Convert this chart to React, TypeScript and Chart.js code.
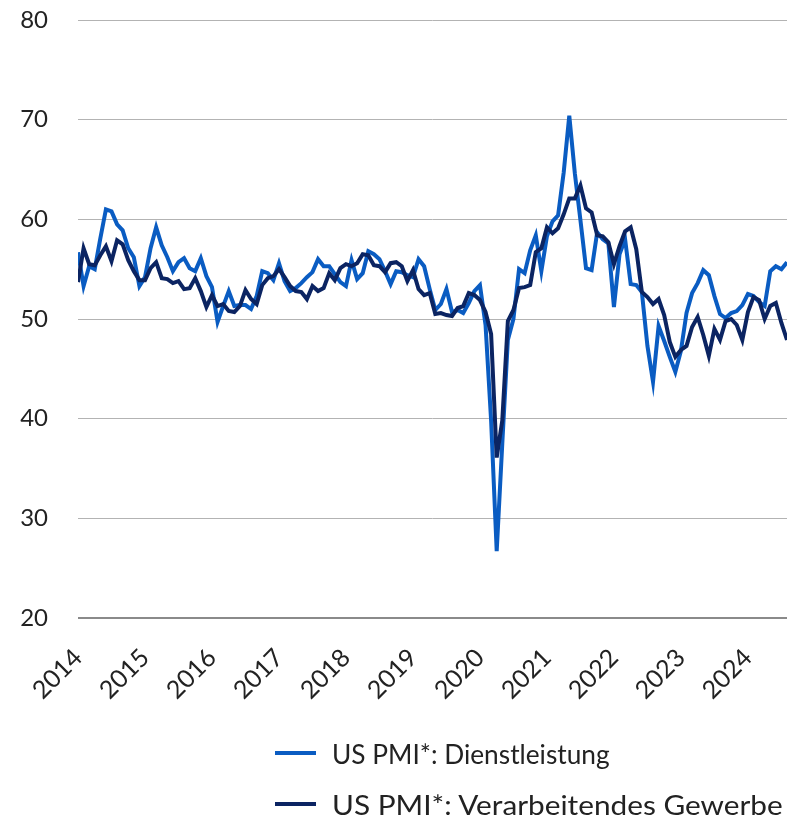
import React, { useEffect, useRef } from "react";
import { Chart, registerables } from "chart.js";

Chart.register(...registerables);

// Monthly data, Jan 2014 – Aug 2024
const startYear = 2014;
const yearLabels = ["2014", "2015", "2016", "2017", "2018", "2019", "2020", "2021", "2022", "2023", "2024"];
const yTicks = [20, 30, 40, 50, 60, 70, 80];

const servicesPMI = [
  56.7, 53.3, 55.3, 55.0, 58.1, 61.0, 60.8, 59.5, 58.9, 57.1, 56.2, 53.3,
  54.2, 57.1, 59.2, 57.4, 56.2, 54.8, 55.7, 56.1, 55.1, 54.8, 56.1, 54.3,
  53.2, 49.7, 51.3, 52.8, 51.3, 51.4, 51.4, 51.0, 52.3, 54.8, 54.6, 53.9,
  55.6, 53.8, 52.8, 53.1, 53.6, 54.2, 54.7, 56.0, 55.3, 55.3, 54.5, 53.7,
  53.3, 55.9, 54.0, 54.6, 56.8, 56.5, 56.0, 54.8, 53.5, 54.8, 54.7, 54.4,
  54.2, 56.0, 55.3, 53.0, 50.9, 51.5, 53.0, 50.7, 50.9, 50.6, 51.6, 52.8,
  53.4, 49.4, 39.8, 26.7, 37.5, 47.9, 50.0, 55.0, 54.6, 56.9, 58.4, 54.8,
  58.3, 59.8, 60.4, 64.7, 70.4, 64.6, 59.9, 55.1, 54.9, 58.7, 58.0, 57.6,
  51.2, 56.5, 58.0, 53.5, 53.4, 52.7, 47.3, 43.7, 49.3, 47.8, 46.2, 44.7,
  46.8, 50.6, 52.6, 53.6, 54.9, 54.4, 52.3, 50.5, 50.1, 50.6, 50.8, 51.4,
  52.5, 52.3, 51.7, 51.3, 54.8, 55.3, 55.0, 55.7,
];

const manufacturingPMI = [
  53.7, 57.1, 55.5, 55.4, 56.4, 57.3, 55.8, 57.9, 57.5, 55.9, 54.8, 53.9,
  53.9, 55.1, 55.7, 54.1, 54.0, 53.6, 53.8, 53.0, 53.1, 54.1, 52.8, 51.2,
  52.4, 51.3, 51.5, 50.8, 50.7, 51.3, 52.9, 52.0, 51.5, 53.4, 54.1, 54.3,
  55.0, 54.2, 53.3, 52.8, 52.7, 52.0, 53.3, 52.8, 53.1, 54.6, 53.9, 55.1,
  55.5, 55.3, 55.6, 56.5, 56.4, 55.4, 55.3, 54.7, 55.6, 55.7, 55.3, 53.8,
  54.9, 53.0, 52.4, 52.6, 50.5, 50.6, 50.4, 50.3, 51.1, 51.3, 52.6, 52.4,
  51.9, 50.7, 48.5, 36.1, 39.8, 49.8, 50.9, 53.1, 53.2, 53.4, 56.7, 57.1,
  59.2, 58.6, 59.1, 60.5, 62.1, 62.1, 63.4, 61.1, 60.7, 58.4, 58.3, 57.7,
  55.5, 57.3, 58.8, 59.2, 57.0, 52.7, 52.2, 51.5, 52.0, 50.4, 47.7, 46.2,
  46.9, 47.3, 49.2, 50.2, 48.4, 46.3, 49.0, 47.9, 49.8, 50.0, 49.4, 47.9,
  50.7, 52.2, 51.9, 50.0, 51.3, 51.6, 49.6, 47.9,
];

const seriesNames = ["US PMI*: Dienstleistung", "US PMI*: Verarbeitendes Gewerbe"];
const seriesColors = ["#0A5CC2", "#0B2462"];

const FONT = "Lato, 'Open Sans', sans-serif";

export default function App() {
  const canvasRef = useRef<HTMLCanvasElement | null>(null);

  useEffect(() => {
    if (!canvasRef.current) return;
    const toPoints = (arr: number[]) => arr.map((v, i) => ({ x: i, y: v }));
    const chart = new Chart(canvasRef.current, {
      type: "line",
      data: {
        datasets: [
          {
            label: seriesNames[0],
            data: toPoints(servicesPMI),
            borderColor: seriesColors[0],
            backgroundColor: seriesColors[0],
            borderWidth: 4,
            pointRadius: 0,
            tension: 0,
            order: 1,
          },
          {
            label: seriesNames[1],
            data: toPoints(manufacturingPMI),
            borderColor: seriesColors[1],
            backgroundColor: seriesColors[1],
            borderWidth: 4,
            pointRadius: 0,
            tension: 0,
            order: 0,
          },
        ],
      },
      options: {
        animation: false,
        responsive: false,
        devicePixelRatio: 1,
        layout: { padding: { top: 20, left: 0, right: 0, bottom: 101 } },
        plugins: { legend: { display: false }, tooltip: { enabled: false } },
        scales: {
          x: {
            type: "linear",
            min: 0,
            max: servicesPMI.length - 1,
            afterBuildTicks: (scale: any) => {
              scale.ticks = yearLabels.map((_, i) => ({ value: i * 12 }));
            },
            afterFit: (scale: any) => {
              scale.height = 100;
              scale.paddingLeft = 0;
              scale.paddingRight = 0;
            },
            grid: { display: false, drawTicks: false },
            border: { display: false },
            ticks: {
              autoSkip: false,
              minRotation: 45,
              maxRotation: 45,
              padding: 25,
              color: "#222",
              font: { family: FONT, size: 25 },
              callback: (v: any) => String(startYear + Math.round(Number(v) / 12)),
            },
          },
          y: {
            min: 20,
            max: 80,
            afterBuildTicks: (scale: any) => {
              scale.ticks = yTicks.map((v) => ({ value: v }));
            },
            afterFit: (scale: any) => {
              scale.width = 78;
              scale.paddingTop = 0;
              scale.paddingBottom = 0;
            },
            grid: {
              drawTicks: false,
              color: (ctx: any) => (ctx.tick && ctx.tick.value === 20 ? "#8a8a8a" : "#b3b3b3"),
              lineWidth: (ctx: any) => (ctx.tick && ctx.tick.value === 20 ? 2 : 1),
            },
            border: { display: false },
            ticks: {
              padding: 30,
              color: "#222",
              font: { family: FONT, size: 24 },
            },
          },
        },
      },
    } as any);
    return () => chart.destroy();
  }, []);

  const rowScale = [1.01, 1.145];

  const legendRow = (i: number, top: number) => (
    <div key={i} style={{ position: "absolute", left: 275, top, height: 31, width: 512 }}>
      <div
        style={{
          position: "absolute",
          left: 0,
          top: 12,
          width: 41,
          height: 4,
          background: seriesColors[i],
        }}
      />
      <div
        style={{
          position: "absolute",
          left: 57,
          top: 0,
          fontFamily: FONT,
          fontSize: 26,
          lineHeight: "31px",
          color: "#222",
          whiteSpace: "nowrap",
          transform: `scaleX(${rowScale[i]})`,
          transformOrigin: "left center",
        }}
      >
        {seriesNames[i]}
      </div>
    </div>
  );

  return (
    <div style={{ position: "absolute", left: 0, top: 0, width: 787, height: 819, background: "#fff" }}>
      <canvas ref={canvasRef} width={787} height={819} style={{ position: "absolute", left: 0, top: 0 }} />
      {legendRow(0, 739)}
      {legendRow(1, 790)}
    </div>
  );
}
